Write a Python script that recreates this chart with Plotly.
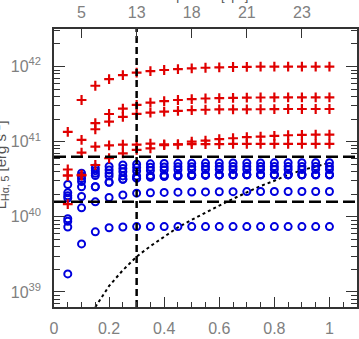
import numpy as np
import plotly.graph_objects as go

# ---------------- data (log10 luminosity) ----------------
x_frac = [0.05, 0.10, 0.15, 0.20, 0.25, 0.30, 0.35, 0.40, 0.45, 0.50,
          0.55, 0.60, 0.65, 0.70, 0.75, 0.80, 0.85, 0.90, 0.95, 1.00]

red_1 = [41.13, 41.555, 41.745, 41.834, 41.887, 41.92, 41.94, 41.954, 41.967, 41.976,
         41.984, 41.99, 41.994, 41.997, 41.998, 42.0, 42.0, 42.0, 42.0, 42.0]
red_2 = [40.63, 41.024, 41.246, 41.369, 41.44, 41.49, 41.52, 41.54, 41.555, 41.567,
         41.575, 41.58, 41.583, 41.586, 41.588, 41.59, 41.59, 41.59, 41.59, 41.59]
red_3 = [40.55, 40.855, 41.166, 41.267, 41.33, 41.37, 41.386, 41.40, 41.41, 41.42,
         41.425, 41.43, 41.43, 41.43, 41.432, 41.434, 41.435, 41.435, 41.435, 41.435]
red_4 = [40.55, 40.55, 40.935, 40.95, 40.96, 40.96, 40.975, 40.965, 40.965, 40.967,
         40.968, 40.969, 40.97, 40.97, 40.97, 40.97, 40.97, 40.97, 40.97, 40.97]
red_5 = [40.17, 40.56, 40.69, 40.78, 40.845, 40.89, 40.91, 40.955, 40.965, 41.0,
         41.015, 41.033, 41.046, 41.06, 41.068, 41.077, 41.086, 41.09, 41.094, 41.094]

blue_1 = [40.43, 40.58, 40.65, 40.67, 40.69, 40.70, 40.705, 40.71, 40.712, 40.714,
          40.715, 40.716, 40.717, 40.718, 40.718, 40.719, 40.72, 40.72, 40.72, 40.72]
blue_2 = [40.32, 40.545, 40.615, 40.625, 40.645, 40.655, 40.66, 40.664, 40.666, 40.668,
          40.67, 40.67, 40.67, 40.67, 40.67, 40.67, 40.67, 40.67, 40.67, 40.67]
blue_3 = [40.28, 40.51, 40.58, 40.58, 40.60, 40.61, 40.618, 40.624, 40.627, 40.629,
          40.63, 40.63, 40.63, 40.63, 40.63, 40.63, 40.63, 40.63, 40.63, 40.63]
blue_4 = [40.25, 40.47, 40.55, 40.545, 40.545, 40.545, 40.55, 40.555, 40.558, 40.56,
          40.56, 40.56, 40.56, 40.56, 40.56, 40.56, 40.56, 40.56, 40.56, 40.56]
blue_5 = [39.975, 40.40, 40.40, 40.46, 40.50, 40.515, 40.53, 40.54, 40.545, 40.55,
          40.555, 40.558, 40.56, 40.56, 40.56, 40.56, 40.56, 40.56, 40.56, 40.56]
blue_6 = [39.94, 40.12, 40.20, 40.257, 40.29, 40.315, 40.32, 40.325, 40.328, 40.33,
          40.332, 40.334, 40.335, 40.336, 40.337, 40.337, 40.337, 40.337, 40.337, 40.337]
blue_7 = [39.865, 40.27, 40.40, 40.46, 40.50, 40.515, 40.53, 40.54, 40.545, 40.55,
          40.555, 40.558, 40.56, 40.56, 40.56, 40.56, 40.56, 40.56, 40.56, 40.56]
blue_8 = [39.24, 39.64, 39.80, 39.855, 39.865, 39.87, 39.87, 39.87, 39.87, 39.87,
          39.87, 39.87, 39.87, 39.87, 39.87, 39.87, 39.87, 39.87, 39.87, 39.87]

curve_x = [0.15, 0.20, 0.25, 0.30, 0.35, 0.40, 0.45, 0.50, 0.55, 0.60,
           0.65, 0.70, 0.75, 0.80, 0.85, 0.90, 0.95, 1.00]
curve_logL = [38.80, 39.08, 39.29, 39.47, 39.61, 39.74, 39.86, 39.96, 40.06, 40.15,
              40.24, 40.33, 40.41, 40.48, 40.56, 40.62, 40.67, 40.72]

hline_logL = [40.8, 40.2]
vline_x = [0.3]

bottom_tick_vals = [0, 0.2, 0.4, 0.6, 0.8, 1.0]
bottom_tick_text = ["0", "0.2", "0.4", "0.6", "0.8", "1"]
top_tick_vals = [0.1, 0.3, 0.5, 0.7, 0.9]
top_tick_text = ["5", "13", "18", "21", "23"]
y_decades = [39, 40, 41, 42]

X_RANGE = [0, 1.1]
Y_RANGE = [38.8, 42.5]

# ---------------- figure ----------------
fig = go.Figure()

fig.add_trace(go.Scatter(x=curve_x, y=10 ** np.array(curve_logL), mode="lines",
                         line=dict(color="black", width=2, dash="dot"),
                         hoverinfo="skip"))

blue_color = "#0000dd"
for s in [blue_1, blue_2, blue_3, blue_4, blue_5, blue_6, blue_7, blue_8]:
    fig.add_trace(go.Scatter(x=x_frac, y=10 ** np.array(s), mode="markers",
                             marker=dict(symbol="circle-open", size=7,
                                         line=dict(color=blue_color, width=2),
                                         color=blue_color)))

red_color = "#e00000"
for s in [red_1, red_2, red_3, red_4, red_5]:
    fig.add_trace(go.Scatter(x=x_frac, y=10 ** np.array(s), mode="markers",
                             marker=dict(symbol="cross-thin-open", size=7,
                                         line=dict(color=red_color, width=2.2),
                                         color=red_color)))

for h in hline_logL:
    fig.add_trace(go.Scatter(x=X_RANGE, y=[10 ** h, 10 ** h], mode="lines",
                             line=dict(color="black", width=2.5, dash="12px,5px"),
                             hoverinfo="skip"))
for v in vline_x:
    fig.add_trace(go.Scatter(x=[v, v], y=[10 ** Y_RANGE[0], 10 ** Y_RANGE[1]],
                             mode="lines",
                             line=dict(color="black", width=2.5, dash="7px,4px"),
                             hoverinfo="skip"))

fig.add_trace(go.Scatter(x=[0.5], y=[1e40], xaxis="x2", mode="markers",
                         marker=dict(opacity=0), hoverinfo="skip"))

tick_font = dict(family="Liberation Sans", size=16, color="#808080")
axis_color = "#333333"

minor_x = [0.05, 0.1, 0.15, 0.25, 0.3, 0.35, 0.45, 0.5, 0.55, 0.65, 0.7, 0.75,
           0.85, 0.9, 0.95, 1.05]
minor_y = [k * 10.0 ** d for d in range(38, 43) for k in range(2, 10)]

fig.update_layout(
    width=359, height=339,
    margin=dict(l=54, r=2, t=29, b=32, autoexpand=False),
    plot_bgcolor="white", paper_bgcolor="white",
    showlegend=False,
    xaxis=dict(range=X_RANGE, tickvals=bottom_tick_vals, ticktext=bottom_tick_text,
               ticks="inside", ticklen=10, tickwidth=1.2, tickcolor=axis_color,
               showline=True, linecolor=axis_color, linewidth=1.5,
               showgrid=False, zeroline=False, tickfont=tick_font,
               ticklabelstandoff=6, automargin=False,
               minor=dict(tickvals=minor_x, ticks="inside", ticklen=5,
                          tickwidth=1.2, tickcolor=axis_color, showgrid=False)),
    xaxis2=dict(range=X_RANGE, overlaying="x", side="top",
                tickvals=top_tick_vals, ticktext=top_tick_text,
                ticks="inside", ticklen=9, tickwidth=1.2, tickcolor=axis_color,
                showline=True, linecolor=axis_color, linewidth=1.5,
                showgrid=False, zeroline=False, tickfont=tick_font,
                ticklabelstandoff=3, automargin=False),
    yaxis=dict(type="log", range=Y_RANGE,
               tickvals=[10.0 ** d for d in y_decades],
               ticktext=[f"10<sup>{d}</sup>" for d in y_decades],
               ticks="inside", ticklen=11, tickwidth=1.2, tickcolor=axis_color,
               showline=True, linecolor=axis_color, linewidth=1.5, mirror="ticks",
               showgrid=False, zeroline=False, tickfont=tick_font,
               ticklabelstandoff=8, automargin=False,
               minor=dict(tickvals=minor_y, ticks="inside", ticklen=6,
                          tickwidth=1.2, tickcolor=axis_color, showgrid=False)),
)

fig.add_annotation(text="aperture [kpc]", xref="paper", yref="paper",
                   x=0.51, y=1.086, xanchor="center", yanchor="bottom",
                   showarrow=False,
                   font=dict(family="Liberation Sans", size=13, color="#555555"))
fig.add_annotation(text="L<sub>Hα, 5</sub> [erg s<sup>-1</sup>]", xref="paper", yref="paper",
                   x=-0.178, y=0.51, xanchor="center", yanchor="middle",
                   textangle=-90, showarrow=False,
                   font=dict(family="Liberation Sans", size=15, color="#555555"))

fig.write_html("out.html", config={"displayModeBar": False},
               post_script="document.body.style.margin='0';document.body.style.overflow='hidden';")
